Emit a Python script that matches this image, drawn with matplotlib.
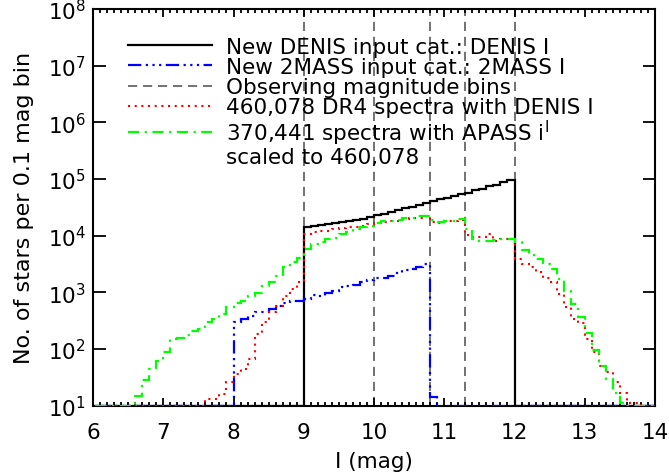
import numpy as np
import matplotlib
matplotlib.use("Agg")
import matplotlib.pyplot as plt
from matplotlib.lines import Line2D

# ---------------- data (counts per 0.1 mag bin) ----------------
bin_width = 0.1
mag_min, mag_max = 6.0, 14.0

denis_start = 9.0
denis_counts = [14100, 15100, 15500, 15800, 16600, 17400, 18200, 19100, 20000, 21400,
                22900, 24500, 26300, 28200, 30200, 32400, 35500, 38000, 40700, 43600,
                46800, 50100, 53700, 57500, 63100, 67600, 74100, 79400, 87100, 95500]

tmass_start = 8.0
tmass_counts = [302, 339, 380, 447, 457, 513, 575, 646, 692, 708,
                759, 891, 871, 977, 1072, 1230, 1288, 1349, 1514, 1622,
                1778, 1820, 1950, 2240, 2510, 2570, 2750, 3160, 14]

dr4_start = 7.6
dr4_counts = [13, 13, 16, 26, 36, 45, 66, 182, 295, 447,
              575, 871, 1148, 1514, 10500, 11500, 12000, 12300, 12900, 13500,
              14100, 14500, 15100, 15800, 16600, 17400, 17800, 18200, 19500, 20400,
              20900, 21900, 17400, 16600, 17800, 18200, 19100, 10200, 9550, 9550,
              10700, 8130, 8710, 8910, 3890, 3160, 2750, 2290, 1820, 1514,
              933, 550, 339, 288, 151, 87, 51, 39, 26, 17,
              11, 11]

apass_start = 6.6
apass_counts = [15, 28, 45, 62, 89, 151, 155, 174, 204, 224,
                302, 339, 417, 562, 646, 708, 851, 955, 1318, 1514,
                1950, 2750, 3390, 3980, 5750, 7080, 7590, 8710, 9120, 10700,
                11500, 13200, 14100, 15100, 16600, 17800, 18200, 19100, 20400, 20900,
                21900, 22400, 19100, 17400, 17800, 18200, 19500, 13200, 8910, 8130,
                8130, 8320, 8710, 8910, 7590, 5500, 4570, 3890, 3160, 2570,
                1740, 1072, 617, 363, 195, 98, 51, 30, 17, 11]

obs_bins = [9.0, 10.0, 10.8, 11.3, 12.0]

labels = ["New DENIS input cat.: DENIS I",
          "New 2MASS input cat.: 2MASS I",
          "Observing magnitude bins",
          "460,078 DR4 spectra with DENIS I",
          "370,441 spectra with APASS i$^\\mathrm{I}$",
          "scaled to 460,078"]

x_ticks = [6, 7, 8, 9, 10, 11, 12, 13, 14]
y_lim = (1e1, 1e8)

# ---------------- helpers ----------------
nbins = int(round((mag_max - mag_min) / bin_width))
edges = np.round(mag_min + bin_width * np.arange(nbins + 1), 2)


def full_hist(start, counts):
    arr = np.zeros(nbins)
    i0 = int(round((start - mag_min) / bin_width))
    arr[i0:i0 + len(counts)] = counts
    return np.maximum(arr, y_lim[0])


plt.rcParams['font.family'] = ['DejaVu Sans']
plt.rcParams['mathtext.fontset'] = 'dejavusans'

FS = 15.5
blue_ls = (0, (6, 2, 1, 2, 1, 2, 1, 2))
red_ls = (0, (1, 2.2))
green_ls = (0, (5, 2.5, 1, 2.5))
gray_ls = (0, (5.5, 3.5))
gray = '#5a5a5a'

fig = plt.figure(figsize=(6.69, 4.77), dpi=100)
ax = fig.add_axes([93 / 669, 1 - 406.7 / 477, (655 - 93) / 669, (406.7 - 10) / 477])

for xv in obs_bins:
    ax.axvline(xv, color=gray, lw=1.2, ls=gray_ls, zorder=1)

ax.stairs(full_hist(denis_start, denis_counts), edges, color='black', lw=1.6, zorder=3)
ax.stairs(full_hist(tmass_start, tmass_counts), edges, color='#0000ff', lw=1.6,
          ls=blue_ls, zorder=3)
ax.stairs(full_hist(dr4_start, dr4_counts), edges, color='#ff0000', lw=1.5,
          ls=red_ls, zorder=3)
ax.stairs(full_hist(apass_start, apass_counts), edges, color='#00ff00', lw=1.6,
          ls=green_ls, zorder=3)

ax.set_yscale('log')
ax.set_xlim(mag_min, mag_max)
ax.set_ylim(*y_lim)
ax.set_xticks(x_ticks)
ax.set_xticks(edges, minor=True)
ax.set_yticks([10.0 ** k for k in range(1, 9)])
ax.yaxis.set_minor_locator(matplotlib.ticker.NullLocator())

ax.tick_params(which='both', direction='in', top=True, right=True, width=1.3)
ax.tick_params(which='major', axis='x', length=6, pad=12)
ax.tick_params(which='minor', axis='x', length=3)
ax.tick_params(which='major', axis='y', length=9, pad=5)
ax.tick_params(labelsize=FS)
for s in ax.spines.values():
    s.set_linewidth(1.5)

ax.set_xlabel('I (mag)', fontsize=FS, labelpad=6)
ax.set_ylabel('No. of stars per 0.1 mag bin', fontsize=FS + 0.5, labelpad=10)

handles = [Line2D([], [], color='black', lw=1.6),
           Line2D([], [], color='#0000ff', lw=1.6, ls=blue_ls),
           Line2D([], [], color=gray, lw=1.2, ls=gray_ls),
           Line2D([], [], color='#ff0000', lw=1.5, ls=red_ls),
           Line2D([], [], color='#00ff00', lw=1.6, ls=green_ls),
           Line2D([], [], color='none', lw=0)]
ax.legend(handles, labels, loc='upper left', bbox_to_anchor=(0.062, 0.93),
          frameon=False, fontsize=FS, handlelength=3.9, handletextpad=0.68,
          labelspacing=0.01, borderpad=0, borderaxespad=0)

fig.savefig('out.png', dpi=100)
